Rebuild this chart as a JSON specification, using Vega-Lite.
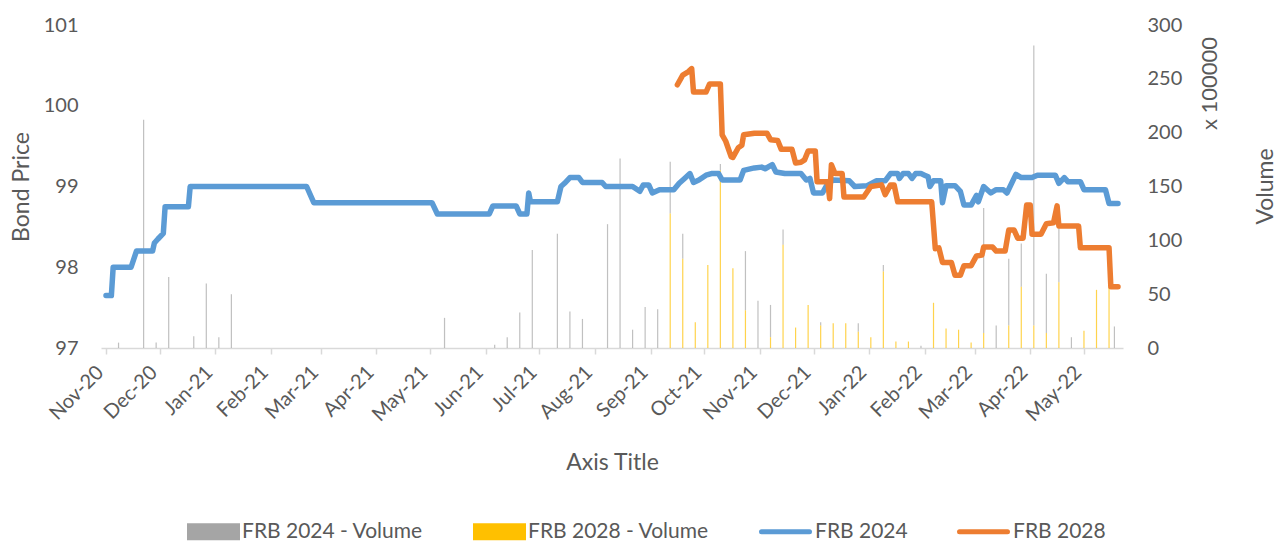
{
  "$schema": "https://vega.github.io/schema/vega-lite/v6.json",
  "width": 1022,
  "height": 323,
  "autosize": {"type": "none"},
  "padding": {"left": 101, "top": 25, "right": 161, "bottom": 195},
  "background": "white",
  "config": {
    "font": "Lato",
    "view": {"stroke": null},
    "axis": {"labelColor": "#595959", "titleColor": "#595959", "labelFont": "Lato", "titleFont": "Lato", "titleFontWeight": "normal", "grid": false, "labelFontSize": 20, "titleFontSize": 23},
    "legend": {"labelFont": "Lato", "labelColor": "#595959", "labelFontSize": 21, "labelLimit": 400}
  },
  "datasets": {
    "prices": [
      {"date": "2020-11-01", "series": "FRB 2024", "price": 97.65},
      {"date": "2020-11-04", "series": "FRB 2024", "price": 97.65},
      {"date": "2020-11-05", "series": "FRB 2024", "price": 98.0},
      {"date": "2020-11-15", "series": "FRB 2024", "price": 98.0},
      {"date": "2020-11-18", "series": "FRB 2024", "price": 98.2},
      {"date": "2020-11-27", "series": "FRB 2024", "price": 98.2},
      {"date": "2020-11-28", "series": "FRB 2024", "price": 98.3},
      {"date": "2020-11-30", "series": "FRB 2024", "price": 98.35},
      {"date": "2020-12-03", "series": "FRB 2024", "price": 98.42},
      {"date": "2020-12-04", "series": "FRB 2024", "price": 98.75},
      {"date": "2020-12-17", "series": "FRB 2024", "price": 98.75},
      {"date": "2020-12-18", "series": "FRB 2024", "price": 99.0},
      {"date": "2021-02-21", "series": "FRB 2024", "price": 99.0},
      {"date": "2021-02-25", "series": "FRB 2024", "price": 98.8},
      {"date": "2021-05-02", "series": "FRB 2024", "price": 98.8},
      {"date": "2021-05-05", "series": "FRB 2024", "price": 98.66},
      {"date": "2021-06-03", "series": "FRB 2024", "price": 98.66},
      {"date": "2021-06-05", "series": "FRB 2024", "price": 98.76},
      {"date": "2021-06-18", "series": "FRB 2024", "price": 98.76},
      {"date": "2021-06-20", "series": "FRB 2024", "price": 98.66},
      {"date": "2021-06-24", "series": "FRB 2024", "price": 98.66},
      {"date": "2021-06-25", "series": "FRB 2024", "price": 98.92},
      {"date": "2021-06-26", "series": "FRB 2024", "price": 98.81},
      {"date": "2021-07-11", "series": "FRB 2024", "price": 98.81},
      {"date": "2021-07-13", "series": "FRB 2024", "price": 99.0},
      {"date": "2021-07-15", "series": "FRB 2024", "price": 99.04},
      {"date": "2021-07-18", "series": "FRB 2024", "price": 99.11},
      {"date": "2021-07-23", "series": "FRB 2024", "price": 99.11},
      {"date": "2021-07-25", "series": "FRB 2024", "price": 99.05},
      {"date": "2021-08-05", "series": "FRB 2024", "price": 99.05},
      {"date": "2021-08-07", "series": "FRB 2024", "price": 99.0},
      {"date": "2021-08-22", "series": "FRB 2024", "price": 99.0},
      {"date": "2021-08-26", "series": "FRB 2024", "price": 98.94},
      {"date": "2021-08-28", "series": "FRB 2024", "price": 99.02},
      {"date": "2021-08-31", "series": "FRB 2024", "price": 99.02},
      {"date": "2021-09-02", "series": "FRB 2024", "price": 98.92},
      {"date": "2021-09-06", "series": "FRB 2024", "price": 98.96},
      {"date": "2021-09-14", "series": "FRB 2024", "price": 98.96},
      {"date": "2021-09-17", "series": "FRB 2024", "price": 99.04},
      {"date": "2021-09-20", "series": "FRB 2024", "price": 99.1},
      {"date": "2021-09-23", "series": "FRB 2024", "price": 99.16},
      {"date": "2021-09-25", "series": "FRB 2024", "price": 99.05},
      {"date": "2021-09-28", "series": "FRB 2024", "price": 99.08},
      {"date": "2021-10-02", "series": "FRB 2024", "price": 99.14},
      {"date": "2021-10-05", "series": "FRB 2024", "price": 99.16},
      {"date": "2021-10-09", "series": "FRB 2024", "price": 99.16},
      {"date": "2021-10-11", "series": "FRB 2024", "price": 99.08},
      {"date": "2021-10-21", "series": "FRB 2024", "price": 99.08},
      {"date": "2021-10-23", "series": "FRB 2024", "price": 99.2},
      {"date": "2021-10-29", "series": "FRB 2024", "price": 99.23},
      {"date": "2021-11-02", "series": "FRB 2024", "price": 99.24},
      {"date": "2021-11-04", "series": "FRB 2024", "price": 99.22},
      {"date": "2021-11-08", "series": "FRB 2024", "price": 99.27},
      {"date": "2021-11-10", "series": "FRB 2024", "price": 99.18},
      {"date": "2021-11-15", "series": "FRB 2024", "price": 99.16},
      {"date": "2021-11-24", "series": "FRB 2024", "price": 99.16},
      {"date": "2021-11-27", "series": "FRB 2024", "price": 99.08},
      {"date": "2021-11-29", "series": "FRB 2024", "price": 99.1},
      {"date": "2021-12-01", "series": "FRB 2024", "price": 98.92},
      {"date": "2021-12-06", "series": "FRB 2024", "price": 98.92},
      {"date": "2021-12-09", "series": "FRB 2024", "price": 99.04},
      {"date": "2021-12-12", "series": "FRB 2024", "price": 99.08},
      {"date": "2021-12-21", "series": "FRB 2024", "price": 99.07},
      {"date": "2021-12-24", "series": "FRB 2024", "price": 99.0},
      {"date": "2021-12-31", "series": "FRB 2024", "price": 99.01},
      {"date": "2022-01-05", "series": "FRB 2024", "price": 99.07},
      {"date": "2022-01-10", "series": "FRB 2024", "price": 99.07},
      {"date": "2022-01-13", "series": "FRB 2024", "price": 99.16},
      {"date": "2022-01-17", "series": "FRB 2024", "price": 99.16},
      {"date": "2022-01-18", "series": "FRB 2024", "price": 99.1},
      {"date": "2022-01-20", "series": "FRB 2024", "price": 99.16},
      {"date": "2022-01-23", "series": "FRB 2024", "price": 99.16},
      {"date": "2022-01-25", "series": "FRB 2024", "price": 99.1},
      {"date": "2022-01-27", "series": "FRB 2024", "price": 99.16},
      {"date": "2022-01-30", "series": "FRB 2024", "price": 99.16},
      {"date": "2022-02-01", "series": "FRB 2024", "price": 99.14},
      {"date": "2022-02-03", "series": "FRB 2024", "price": 99.12},
      {"date": "2022-02-04", "series": "FRB 2024", "price": 99.0},
      {"date": "2022-02-06", "series": "FRB 2024", "price": 99.07},
      {"date": "2022-02-10", "series": "FRB 2024", "price": 99.07},
      {"date": "2022-02-11", "series": "FRB 2024", "price": 98.8},
      {"date": "2022-02-13", "series": "FRB 2024", "price": 99.01},
      {"date": "2022-02-18", "series": "FRB 2024", "price": 99.01},
      {"date": "2022-02-21", "series": "FRB 2024", "price": 98.94},
      {"date": "2022-02-23", "series": "FRB 2024", "price": 98.77},
      {"date": "2022-02-27", "series": "FRB 2024", "price": 98.77},
      {"date": "2022-03-02", "series": "FRB 2024", "price": 98.89},
      {"date": "2022-03-03", "series": "FRB 2024", "price": 98.81},
      {"date": "2022-03-06", "series": "FRB 2024", "price": 99.0},
      {"date": "2022-03-10", "series": "FRB 2024", "price": 98.92},
      {"date": "2022-03-13", "series": "FRB 2024", "price": 98.96},
      {"date": "2022-03-17", "series": "FRB 2024", "price": 98.96},
      {"date": "2022-03-19", "series": "FRB 2024", "price": 98.92},
      {"date": "2022-03-24", "series": "FRB 2024", "price": 99.15},
      {"date": "2022-03-27", "series": "FRB 2024", "price": 99.11},
      {"date": "2022-04-02", "series": "FRB 2024", "price": 99.11},
      {"date": "2022-04-05", "series": "FRB 2024", "price": 99.14},
      {"date": "2022-04-15", "series": "FRB 2024", "price": 99.14},
      {"date": "2022-04-17", "series": "FRB 2024", "price": 99.04},
      {"date": "2022-04-20", "series": "FRB 2024", "price": 99.11},
      {"date": "2022-04-22", "series": "FRB 2024", "price": 99.06},
      {"date": "2022-04-29", "series": "FRB 2024", "price": 99.06},
      {"date": "2022-05-01", "series": "FRB 2024", "price": 98.96},
      {"date": "2022-05-13", "series": "FRB 2024", "price": 98.96},
      {"date": "2022-05-15", "series": "FRB 2024", "price": 98.79},
      {"date": "2022-05-20", "series": "FRB 2024", "price": 98.79},
      {"date": "2021-09-16", "series": "FRB 2028", "price": 100.26},
      {"date": "2021-09-19", "series": "FRB 2028", "price": 100.38},
      {"date": "2021-09-22", "series": "FRB 2028", "price": 100.42},
      {"date": "2021-09-24", "series": "FRB 2028", "price": 100.46},
      {"date": "2021-09-25", "series": "FRB 2028", "price": 100.17},
      {"date": "2021-10-02", "series": "FRB 2028", "price": 100.17},
      {"date": "2021-10-04", "series": "FRB 2028", "price": 100.27},
      {"date": "2021-10-10", "series": "FRB 2028", "price": 100.27},
      {"date": "2021-10-11", "series": "FRB 2028", "price": 99.64},
      {"date": "2021-10-13", "series": "FRB 2028", "price": 99.56},
      {"date": "2021-10-16", "series": "FRB 2028", "price": 99.37},
      {"date": "2021-10-17", "series": "FRB 2028", "price": 99.36},
      {"date": "2021-10-20", "series": "FRB 2028", "price": 99.48},
      {"date": "2021-10-22", "series": "FRB 2028", "price": 99.51},
      {"date": "2021-10-23", "series": "FRB 2028", "price": 99.64},
      {"date": "2021-10-29", "series": "FRB 2028", "price": 99.66},
      {"date": "2021-11-05", "series": "FRB 2028", "price": 99.66},
      {"date": "2021-11-07", "series": "FRB 2028", "price": 99.58},
      {"date": "2021-11-11", "series": "FRB 2028", "price": 99.57},
      {"date": "2021-11-13", "series": "FRB 2028", "price": 99.46},
      {"date": "2021-11-19", "series": "FRB 2028", "price": 99.46},
      {"date": "2021-11-21", "series": "FRB 2028", "price": 99.29},
      {"date": "2021-11-24", "series": "FRB 2028", "price": 99.3},
      {"date": "2021-11-26", "series": "FRB 2028", "price": 99.33},
      {"date": "2021-11-28", "series": "FRB 2028", "price": 99.44},
      {"date": "2021-12-02", "series": "FRB 2028", "price": 99.44},
      {"date": "2021-12-03", "series": "FRB 2028", "price": 99.06},
      {"date": "2021-12-09", "series": "FRB 2028", "price": 99.06},
      {"date": "2021-12-10", "series": "FRB 2028", "price": 98.85},
      {"date": "2021-12-11", "series": "FRB 2028", "price": 99.27},
      {"date": "2021-12-13", "series": "FRB 2028", "price": 99.16},
      {"date": "2021-12-17", "series": "FRB 2028", "price": 99.16},
      {"date": "2021-12-18", "series": "FRB 2028", "price": 98.87},
      {"date": "2021-12-29", "series": "FRB 2028", "price": 98.87},
      {"date": "2022-01-02", "series": "FRB 2028", "price": 99.0},
      {"date": "2022-01-08", "series": "FRB 2028", "price": 99.02},
      {"date": "2022-01-10", "series": "FRB 2028", "price": 98.9},
      {"date": "2022-01-13", "series": "FRB 2028", "price": 99.02},
      {"date": "2022-01-15", "series": "FRB 2028", "price": 99.02},
      {"date": "2022-01-17", "series": "FRB 2028", "price": 98.81},
      {"date": "2022-02-05", "series": "FRB 2028", "price": 98.81},
      {"date": "2022-02-07", "series": "FRB 2028", "price": 98.23},
      {"date": "2022-02-09", "series": "FRB 2028", "price": 98.24},
      {"date": "2022-02-11", "series": "FRB 2028", "price": 98.06},
      {"date": "2022-02-16", "series": "FRB 2028", "price": 98.06},
      {"date": "2022-02-18", "series": "FRB 2028", "price": 97.9},
      {"date": "2022-02-21", "series": "FRB 2028", "price": 97.9},
      {"date": "2022-02-23", "series": "FRB 2028", "price": 98.02},
      {"date": "2022-02-27", "series": "FRB 2028", "price": 98.02},
      {"date": "2022-03-02", "series": "FRB 2028", "price": 98.14},
      {"date": "2022-03-05", "series": "FRB 2028", "price": 98.15},
      {"date": "2022-03-06", "series": "FRB 2028", "price": 98.25},
      {"date": "2022-03-11", "series": "FRB 2028", "price": 98.25},
      {"date": "2022-03-13", "series": "FRB 2028", "price": 98.2},
      {"date": "2022-03-18", "series": "FRB 2028", "price": 98.2},
      {"date": "2022-03-20", "series": "FRB 2028", "price": 98.46},
      {"date": "2022-03-23", "series": "FRB 2028", "price": 98.46},
      {"date": "2022-03-25", "series": "FRB 2028", "price": 98.36},
      {"date": "2022-03-28", "series": "FRB 2028", "price": 98.36},
      {"date": "2022-03-30", "series": "FRB 2028", "price": 98.77},
      {"date": "2022-04-01", "series": "FRB 2028", "price": 98.77},
      {"date": "2022-04-02", "series": "FRB 2028", "price": 98.41},
      {"date": "2022-04-07", "series": "FRB 2028", "price": 98.41},
      {"date": "2022-04-10", "series": "FRB 2028", "price": 98.54},
      {"date": "2022-04-14", "series": "FRB 2028", "price": 98.55},
      {"date": "2022-04-16", "series": "FRB 2028", "price": 98.76},
      {"date": "2022-04-17", "series": "FRB 2028", "price": 98.51},
      {"date": "2022-04-28", "series": "FRB 2028", "price": 98.51},
      {"date": "2022-04-29", "series": "FRB 2028", "price": 98.24},
      {"date": "2022-05-15", "series": "FRB 2028", "price": 98.24},
      {"date": "2022-05-16", "series": "FRB 2028", "price": 97.76},
      {"date": "2022-05-20", "series": "FRB 2028", "price": 97.76}
    ],
    "volumes": [
      {"date": "2020-11-08", "series": "FRB 2024 - Volume", "volume": 5},
      {"date": "2020-11-22", "series": "FRB 2024 - Volume", "volume": 212},
      {"date": "2020-11-29", "series": "FRB 2024 - Volume", "volume": 5},
      {"date": "2020-12-06", "series": "FRB 2024 - Volume", "volume": 66},
      {"date": "2020-12-20", "series": "FRB 2024 - Volume", "volume": 11},
      {"date": "2020-12-27", "series": "FRB 2024 - Volume", "volume": 60},
      {"date": "2021-01-03", "series": "FRB 2024 - Volume", "volume": 10},
      {"date": "2021-01-10", "series": "FRB 2024 - Volume", "volume": 50},
      {"date": "2021-05-09", "series": "FRB 2024 - Volume", "volume": 28},
      {"date": "2021-06-06", "series": "FRB 2024 - Volume", "volume": 3},
      {"date": "2021-06-13", "series": "FRB 2024 - Volume", "volume": 10},
      {"date": "2021-06-20", "series": "FRB 2024 - Volume", "volume": 33},
      {"date": "2021-06-27", "series": "FRB 2024 - Volume", "volume": 91},
      {"date": "2021-07-11", "series": "FRB 2024 - Volume", "volume": 106},
      {"date": "2021-07-18", "series": "FRB 2024 - Volume", "volume": 34},
      {"date": "2021-07-25", "series": "FRB 2024 - Volume", "volume": 27},
      {"date": "2021-08-08", "series": "FRB 2024 - Volume", "volume": 115},
      {"date": "2021-08-15", "series": "FRB 2024 - Volume", "volume": 176},
      {"date": "2021-08-22", "series": "FRB 2024 - Volume", "volume": 17},
      {"date": "2021-08-29", "series": "FRB 2024 - Volume", "volume": 38},
      {"date": "2021-09-05", "series": "FRB 2024 - Volume", "volume": 36},
      {"date": "2021-09-12", "series": "FRB 2024 - Volume", "volume": 48},
      {"date": "2021-09-19", "series": "FRB 2024 - Volume", "volume": 23},
      {"date": "2021-10-10", "series": "FRB 2024 - Volume", "volume": 6},
      {"date": "2021-10-24", "series": "FRB 2024 - Volume", "volume": 55},
      {"date": "2021-10-31", "series": "FRB 2024 - Volume", "volume": 44},
      {"date": "2021-11-07", "series": "FRB 2024 - Volume", "volume": 30},
      {"date": "2021-11-14", "series": "FRB 2024 - Volume", "volume": 14},
      {"date": "2021-12-05", "series": "FRB 2024 - Volume", "volume": 3},
      {"date": "2021-12-26", "series": "FRB 2024 - Volume", "volume": 8},
      {"date": "2022-01-09", "series": "FRB 2024 - Volume", "volume": 6},
      {"date": "2022-01-30", "series": "FRB 2024 - Volume", "volume": 2},
      {"date": "2022-03-06", "series": "FRB 2024 - Volume", "volume": 116},
      {"date": "2022-03-13", "series": "FRB 2024 - Volume", "volume": 21},
      {"date": "2022-03-20", "series": "FRB 2024 - Volume", "volume": 62},
      {"date": "2022-03-27", "series": "FRB 2024 - Volume", "volume": 40},
      {"date": "2022-04-03", "series": "FRB 2024 - Volume", "volume": 260},
      {"date": "2022-04-10", "series": "FRB 2024 - Volume", "volume": 55},
      {"date": "2022-04-17", "series": "FRB 2024 - Volume", "volume": 55},
      {"date": "2022-04-24", "series": "FRB 2024 - Volume", "volume": 10},
      {"date": "2022-05-18", "series": "FRB 2024 - Volume", "volume": 20},
      {"date": "2021-09-12", "series": "FRB 2028 - Volume", "volume": 125},
      {"date": "2021-09-19", "series": "FRB 2028 - Volume", "volume": 83},
      {"date": "2021-09-26", "series": "FRB 2028 - Volume", "volume": 24},
      {"date": "2021-10-03", "series": "FRB 2028 - Volume", "volume": 77},
      {"date": "2021-10-10", "series": "FRB 2028 - Volume", "volume": 165},
      {"date": "2021-10-17", "series": "FRB 2028 - Volume", "volume": 74},
      {"date": "2021-10-24", "series": "FRB 2028 - Volume", "volume": 35},
      {"date": "2021-11-07", "series": "FRB 2028 - Volume", "volume": 10},
      {"date": "2021-11-14", "series": "FRB 2028 - Volume", "volume": 96},
      {"date": "2021-11-21", "series": "FRB 2028 - Volume", "volume": 19},
      {"date": "2021-11-28", "series": "FRB 2028 - Volume", "volume": 40},
      {"date": "2021-12-05", "series": "FRB 2028 - Volume", "volume": 21},
      {"date": "2021-12-12", "series": "FRB 2028 - Volume", "volume": 23},
      {"date": "2021-12-19", "series": "FRB 2028 - Volume", "volume": 23},
      {"date": "2021-12-26", "series": "FRB 2028 - Volume", "volume": 15},
      {"date": "2022-01-02", "series": "FRB 2028 - Volume", "volume": 10},
      {"date": "2022-01-09", "series": "FRB 2028 - Volume", "volume": 71},
      {"date": "2022-01-16", "series": "FRB 2028 - Volume", "volume": 6},
      {"date": "2022-01-23", "series": "FRB 2028 - Volume", "volume": 6},
      {"date": "2022-02-06", "series": "FRB 2028 - Volume", "volume": 42},
      {"date": "2022-02-13", "series": "FRB 2028 - Volume", "volume": 18},
      {"date": "2022-02-20", "series": "FRB 2028 - Volume", "volume": 17},
      {"date": "2022-02-27", "series": "FRB 2028 - Volume", "volume": 5},
      {"date": "2022-03-06", "series": "FRB 2028 - Volume", "volume": 14},
      {"date": "2022-03-20", "series": "FRB 2028 - Volume", "volume": 21},
      {"date": "2022-03-27", "series": "FRB 2028 - Volume", "volume": 57},
      {"date": "2022-04-03", "series": "FRB 2028 - Volume", "volume": 21},
      {"date": "2022-04-10", "series": "FRB 2028 - Volume", "volume": 14},
      {"date": "2022-04-17", "series": "FRB 2028 - Volume", "volume": 61},
      {"date": "2022-05-01", "series": "FRB 2028 - Volume", "volume": 16},
      {"date": "2022-05-08", "series": "FRB 2028 - Volume", "volume": 54},
      {"date": "2022-05-15", "series": "FRB 2028 - Volume", "volume": 57}
    ]
  },
  "layer": [
    {
      "data": {"name": "volumes"},
      "mark": {"type": "bar", "width": 1.2, "opacity": 0.7},
      "encoding": {
        "x": {
          "field": "date", "type": "temporal",
          "scale": {"type": "utc", "domain": [{"year": 2020, "month": 11, "date": 1, "utc": true}, {"year": 2022, "month": 5, "date": 20, "utc": true}]},
          "axis": {"orient": "bottom", "title": "Axis Title", "format": "%b-%y", "tickCount": {"interval": "month", "step": 1}, "labelAngle": -45, "labelAlign": "right", "labelBaseline": "middle", "labelOffset": -6, "domainColor": "#D9D9D9", "domainWidth": 1.5, "tickColor": "#D9D9D9", "tickSize": 6, "tickWidth": 1.5, "labelPadding": 15, "titlePadding": 27, "labelOverlap": false, "labelBound": false, "labelFlush": false}
        },
        "y": {
          "field": "volume", "type": "quantitative",
          "scale": {"domain": [0, 300], "nice": false},
          "axis": {"orient": "right", "title": "Volume", "values": [0, 50, 100, 150, 200, 250, 300], "ticks": false, "tickSize": 0, "domain": false, "labelPadding": 24, "labelAlign": "left", "titleAngle": 270, "titleX": 142, "titleY": 161, "titleAlign": "center", "titleBaseline": "middle"}
        },
        "color": {
          "field": "series", "type": "nominal",
          "scale": {"domain": ["FRB 2024 - Volume", "FRB 2028 - Volume"], "range": ["#A5A5A5", "#FFC000"]},
          "legend": {
            "orient": "none", "legendX": 86, "legendY": 480, "direction": "horizontal", "title": null,
            "symbolSize": 2809, "symbolType": "M-1,-0.32H1V0.32H-1Z", "symbolStrokeWidth": 0, "symbolOpacity": 1, "labelOffset": 2, "columnPadding": 50, "padding": 0,
            "encode": {"symbols": {"update": {"opacity": {"value": 1}}}}
          }
        }
      }
    },
    {
      "data": {"name": "prices"},
      "mark": {"type": "line", "strokeWidth": 5.5, "strokeCap": "round", "strokeJoin": "round"},
      "encoding": {
        "x": {"field": "date", "type": "temporal"},
        "y": {
          "field": "price", "type": "quantitative",
          "scale": {"domain": [97, 101], "nice": false},
          "axis": {"orient": "left", "title": "Bond Price", "values": [97, 98, 99, 100, 101], "ticks": false, "tickSize": 0, "domain": false, "labelPadding": 23, "titlePadding": 10}
        },
        "stroke": {
          "field": "series", "type": "nominal",
          "scale": {"domain": ["FRB 2024", "FRB 2028"], "range": ["#5B9BD5", "#ED7D31"]},
          "legend": {
            "orient": "none", "legendX": 658, "legendY": 480, "direction": "horizontal", "title": null,
            "symbolType": "stroke", "symbolSize": 2304, "symbolStrokeWidth": 5, "labelOffset": 3, "columnPadding": 41, "padding": 0,
            "encode": {"symbols": {"update": {"strokeCap": {"value": "round"}, "opacity": {"value": 1}}}}
          }
        }
      }
    },
    {
      "data": {"name": "volumes"},
      "mark": {"type": "point", "opacity": 0},
      "encoding": {
        "x": {"field": "date", "type": "temporal"},
        "y": {
          "field": "volume", "type": "quantitative",
          "scale": {"domain": [0, 300], "nice": false},
          "axis": {"orient": "right", "title": "x 100000", "labels": false, "ticks": false, "domain": false, "titleAngle": 270, "titleX": 86, "titleY": 58, "titleAlign": "center", "titleBaseline": "middle", "titleFontSize": 22}
        }
      }
    }
  ],
  "resolve": {"scale": {"y": "independent"}}
}
